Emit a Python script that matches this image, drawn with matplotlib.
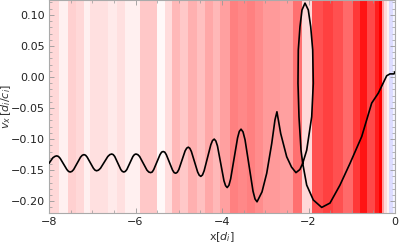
import matplotlib
matplotlib.use("Agg")
import matplotlib.pyplot as plt
import numpy as np
from matplotlib.colors import LinearSegmentedColormap
from matplotlib.ticker import MultipleLocator

# Background stripes (x edges and density values, -1 blue .. 0 white .. 1 red)
stripe_edges = [-8.000, -7.776, -7.568, -7.369, -7.198, -7.045, -6.629, -6.435,
                -6.243, -5.896, -5.510, -5.318, -5.163, -4.971, -4.779, -4.585,
                -4.393, -4.201, -4.046, -3.815, -3.623, -3.429, -3.237, -3.045,
                -2.659, -2.351, -2.150, -1.912, -1.658, -1.427, -1.195, -0.964,
                -0.809, -0.655, -0.462, -0.363, -0.308, -0.254, -0.192, -0.132,
                -0.053, 0.000]
stripe_values = [0.153, 0.059, 0.184, 0.153, 0.059, 0.122, 0.082, 0.122,
                 0.059, 0.216, 0.027, 0.137, 0.278, 0.216, 0.310, 0.247,
                 0.341, 0.278, 0.373, 0.498, 0.467, 0.498, 0.451, 0.396,
                 0.373, 0.561, 0.153, 0.686, 0.749, 0.686, 0.584, 0.780,
                 0.920, 0.718, 0.875, 1.000, 0.373, 0.137, 0.043, -0.137,
                 -0.043]

# Trajectory v_x(x)
x_curve = [-8.00, -7.91, -7.86,
           -7.82, -7.781, -7.742, -7.665, -7.587, -7.549,
           -7.51, -7.47, -7.43, -7.35, -7.27, -7.23,
           -7.19, -7.154, -7.118, -7.045, -6.973, -6.936,
           -6.90, -6.856, -6.81, -6.725, -6.64, -6.594,
           -6.55, -6.515, -6.48, -6.41, -6.34, -6.305,
           -6.27, -6.235, -6.20, -6.13, -6.06, -6.025,
           -5.99, -5.947, -5.905, -5.82, -5.735, -5.693,
           -5.65, -5.614, -5.578, -5.505, -5.433, -5.396,
           -5.36, -5.324, -5.288, -5.215, -5.143, -5.106,
           -5.07, -5.034, -4.998, -4.925, -4.853, -4.816,
           -4.78, -4.744, -4.708, -4.635, -4.563, -4.526,
           -4.49, -4.451, -4.413, -4.335, -4.258, -4.219,
           -4.18, -4.1425, -4.105, -4.03, -3.955, -3.9175,
           -3.88, -3.84, -3.80, -3.72, -3.64, -3.60,
           -3.56, -3.514, -3.4675, -3.375, -3.2825, -3.236,
           -3.19, -3.075, -2.966, -2.85, -2.775,
           -2.73, -2.643, -2.504, -2.393,
           -2.29, -2.20, -2.134, -2.042, -1.926, -1.889, -1.903, -1.949, -2.005,
           -2.081, -2.150, -2.197, -2.236, -2.243, -2.220, -2.173, -2.134, -2.042, -1.889,
           -1.695, -1.503, -1.272, -1.040, -0.770, -0.654, -0.539, -0.386, -0.192, -0.116,
           -0.023, 0.0]
y_curve = [-0.139, -0.130, -0.1277,
           -0.127, -0.128, -0.131, -0.140, -0.149, -0.152,
           -0.153, -0.152, -0.149, -0.139, -0.129, -0.126,
           -0.125, -0.126, -0.129, -0.138, -0.147, -0.150,
           -0.151, -0.150, -0.147, -0.1375, -0.128, -0.125,
           -0.124, -0.125, -0.128, -0.1385, -0.149, -0.152,
           -0.153, -0.152, -0.149, -0.1385, -0.128, -0.125,
           -0.124, -0.125, -0.128, -0.139, -0.150, -0.153,
           -0.154, -0.153, -0.149, -0.137, -0.125, -0.121,
           -0.120, -0.121, -0.125, -0.1375, -0.150, -0.154,
           -0.155, -0.1534, -0.149, -0.134, -0.119, -0.1146,
           -0.113, -0.1148, -0.120, -0.1365, -0.153, -0.1582,
           -0.160, -0.1577, -0.151, -0.130, -0.109, -0.1023,
           -0.100, -0.103, -0.111, -0.139, -0.167, -0.175,
           -0.178, -0.1744, -0.164, -0.131, -0.098, -0.0876,
           -0.084, -0.0884, -0.101, -0.1425, -0.184, -0.1965,
           -0.201, -0.185, -0.155, -0.107, -0.069,
           -0.056, -0.091, -0.1285, -0.145,
           -0.154, -0.149, -0.139, -0.118, -0.064, -0.010, 0.0435, 0.081, 0.108,
           0.119, 0.108, 0.081, 0.0435, -0.010, -0.064, -0.118, -0.139, -0.174, -0.198,
           -0.210, -0.203, -0.174, -0.139, -0.096, -0.069, -0.042, -0.026, 0.002, 0.005,
           0.005, 0.0085]

x_ticks = [-8, -6, -4, -2, 0]
y_ticks = [-0.20, -0.15, -0.10, -0.05, 0.00, 0.05, 0.10]

cmap = LinearSegmentedColormap.from_list("bwr_m", [(0, 0, 1), (1, 1, 1), (1, 0, 0)])

fig = plt.figure(figsize=(3.99, 2.48), dpi=100)
ax = fig.add_axes([49/399, 35/248, 346/399, 213/248])

ax.pcolormesh(np.array(stripe_edges), np.array([-1.0, 1.0]),
              np.array(stripe_values)[None, :], cmap=cmap, vmin=-1, vmax=1,
              shading="flat", zorder=0)
ax.plot(x_curve, y_curve, color="black", lw=1.2, zorder=3,
        solid_joinstyle="round", solid_capstyle="round")

ax.set_xlim(-8, 0)
ax.set_ylim(-0.219, 0.124)
ax.set_xticks(x_ticks)
ax.set_xticklabels(["\u22128", "\u22126", "\u22124", "\u22122", "0"])
ax.set_yticks(y_ticks)
ax.set_yticklabels(["\u22120.20", "\u22120.15", "\u22120.10", "\u22120.05", "0.00", "0.05", "0.10"])
ax.xaxis.set_minor_locator(MultipleLocator(0.5))
ax.yaxis.set_minor_locator(MultipleLocator(0.01))
ax.tick_params(which="both", direction="in", top=True, right=True, color="#999999",
               labelsize=8, labelcolor="#222222", pad=3)
ax.tick_params(which="major", length=3.5, width=0.6)
ax.tick_params(which="minor", length=2, width=0.5)
for s in ax.spines.values():
    s.set_color("#aaaaaa")
    s.set_linewidth(0.8)

ax.set_xlabel(r"x[$d_i$]", fontsize=8, color="#333333", labelpad=2)
ax.set_ylabel(r"$v_x\,[d_i/c_i]$", fontsize=8, color="#333333")
ax.yaxis.set_label_coords(-0.105, 0.5)

fig.savefig("out.png", dpi=100)
